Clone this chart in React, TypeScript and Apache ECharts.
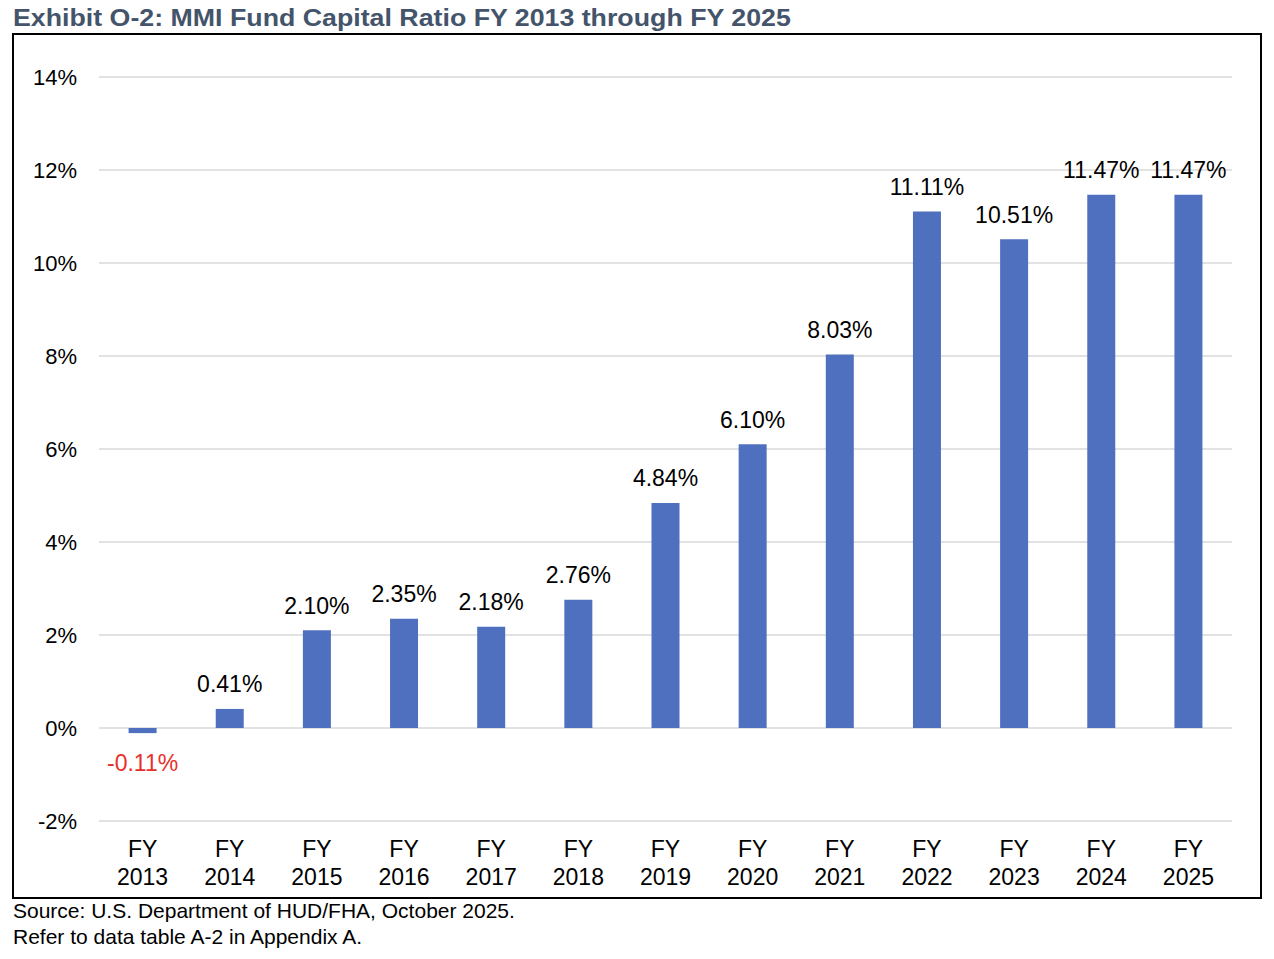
import React, { useEffect, useRef } from "react";
import * as echarts from "echarts";

const categories = ["FY\n2013", "FY\n2014", "FY\n2015", "FY\n2016", "FY\n2017", "FY\n2018", "FY\n2019", "FY\n2020", "FY\n2021", "FY\n2022", "FY\n2023", "FY\n2024", "FY\n2025"];
const capitalRatio = [-0.11, 0.41, 2.10, 2.35, 2.18, 2.76, 4.84, 6.10, 8.03, 11.11, 10.51, 11.47, 11.47];
const titleText = "Exhibit O-2: MMI Fund Capital Ratio FY 2013 through FY 2025";
const sourceLines = ["Source: U.S. Department of HUD/FHA, October 2025.", "Refer to data table A-2 in Appendix A."];

export default function App() {
  const ref = useRef<HTMLDivElement>(null);
  useEffect(() => {
    document.body.style.margin = "0";
    const chart = echarts.init(ref.current!, null, { renderer: "svg" });
    const font = "'Liberation Sans', Arial, sans-serif";
    chart.setOption({
      animation: false,
      backgroundColor: "#ffffff",
      textStyle: { fontFamily: font },
      grid: { left: 99, right: 42, top: 77, bottom: 138 },
      xAxis: {
        type: "category",
        data: categories,
        axisLine: { show: false },
        axisTick: { show: false },
        axisLabel: { color: "#000", fontSize: 23, lineHeight: 28, margin: 14, fontFamily: font, interval: 0 },
      },
      yAxis: {
        type: "value",
        min: -2,
        max: 14,
        interval: 2,
        axisLine: { show: false },
        axisTick: { show: false },
        splitLine: { lineStyle: { color: "#D9D9D9", width: 1.5 } },
        axisLabel: { formatter: "{value}%", color: "#000", fontSize: 22, margin: 22, fontFamily: font },
      },
      series: [
        {
          type: "bar",
          barWidth: 28,
          itemStyle: { color: "#4F70BE" },
          data: capitalRatio.map((v) => ({
            value: v,
            label: v < 0 ? { position: "bottom", color: "#E8302A", distance: 18 } : undefined,
          })),
          label: {
            show: true,
            position: "top",
            distance: 13,
            fontSize: 23,
            color: "#000",
            fontFamily: font,
            formatter: (p: any) => p.value.toFixed(2) + "%",
          },
        },
      ],
      graphic: [
        {
          type: "rect",
          shape: { x: 13, y: 34, width: 1248, height: 864 },
          style: { fill: "none", stroke: "#000", lineWidth: 2 },
          silent: true,
        },
        {
          type: "text",
          x: 13,
          y: 5,
          scaleX: 1.115,
          style: {
            text: titleText,
            fontSize: 24,
            fontWeight: "bold",
            fill: "#44546A",
            fontFamily: font,
          },
        },
        {
          type: "text",
          left: 13,
          top: 900,
          style: { text: sourceLines[0], fontSize: 21, fill: "#000", fontFamily: font },
        },
        {
          type: "text",
          left: 13,
          top: 926,
          style: { text: sourceLines[1], fontSize: 21, fill: "#000", fontFamily: font },
        },
      ],
    });
    return () => chart.dispose();
  }, []);
  return <div ref={ref} style={{ width: 1274, height: 959 }} />;
}
